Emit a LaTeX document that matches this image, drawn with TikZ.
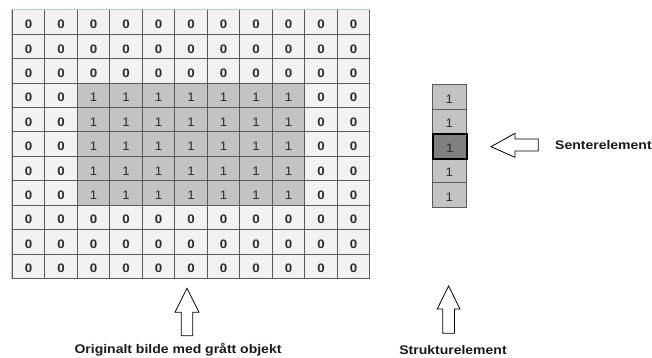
\documentclass[tikz,border=0pt]{standalone}
\usepackage{fontspec}
\setmainfont{Liberation Sans}
\newfontfamily\cellfont[FakeStretch=1.08]{Liberation Sans}
\newfontfamily\labelfont[FakeStretch=1.12]{Liberation Sans}
\definecolor{gridline}{HTML}{5A5A5A}
\definecolor{edgeblue}{HTML}{B8CCE4}
\definecolor{plaincell}{HTML}{F2F2F2}
\definecolor{objcell}{HTML}{C3C3C3}
\definecolor{centercell}{HTML}{808080}
\definecolor{digit}{HTML}{2A2A2A}
\begin{document}
\begin{tikzpicture}[x=1pt,y=-1pt,
  cellbox/.style={draw=gridline, line width=1pt, inner sep=0pt,
    minimum width=32.5pt, minimum height=24.4pt, anchor=north west,
    text height=13pt, text depth=0pt, font=\cellfont\fontsize{12.3}{13}\selectfont, text=digit},
  zerocell/.style={cellbox, fill=plaincell, font=\cellfont\bfseries\fontsize{12.3}{13}\selectfont},
  onecell/.style={cellbox, fill=objcell},
  sebox/.style={cellbox, fill=objcell, minimum width=33.5pt, minimum height=24.6pt, text height=12.6pt},
  caption/.style={font=\labelfont\bfseries\fontsize{12.5}{14}\selectfont, text=black!90, inner sep=0pt, anchor=base},
  blockarrow/.style={draw=black, line width=0.8pt, fill=white, line join=miter}
]
\useasboundingbox (0,0) rectangle (652,358);

% image grid: 11 x 11 cells, object of ones in rows 3-7, columns 2-8
\foreach \r in {0,...,10}{
  \foreach \c in {0,...,10}{
    \pgfmathsetmacro{\isobj}{(\r>=3)&&(\r<=7)&&(\c>=2)&&(\c<=8) ? 1 : 0}
    \ifdim\isobj pt>0.5pt
      \node[onecell] (c-\r-\c) at ({11.7+32.5*\c},{9.5+24.4*\r}) {1};
    \else
      \node[zerocell] (c-\r-\c) at ({11.7+32.5*\c},{9.5+24.4*\r}) {0};
    \fi
  }
}
% light header edges along top and left
\draw[edgeblue, line width=1.2pt] (c-0-0.south west) -- (c-0-0.north west) -- (c-0-10.north east);
\draw[edgeblue, line width=1.2pt] (c-10-0.south west) -- (c-0-0.north west);

% structuring element, five cells with the centre marked
\foreach \k in {0,...,4}{
  \node[sebox] (s-\k) at (432,{84+24.6*\k}) {1};
}
\node[sebox, fill=centercell, draw=black, line width=2pt] (s-2b) at (432,{84+24.6*2}) {1};

% block arrows
\draw[blockarrow] (491,146.7) -- (515,133.3) -- (515,139) -- (538.3,139)
  -- (538.3,151) -- (515,151) -- (515,157.3) -- cycle;
\draw[blockarrow] (187,288.3) -- (199,312.3) -- (192.8,312.3) -- (192.8,335.7)
  -- (181.2,335.7) -- (181.2,312.3) -- (175,312.3) -- cycle;
\draw[blockarrow] (448.6,286) -- (460,309) -- (454.5,309) -- (454.5,333.3)
  -- (442.7,333.3) -- (442.7,309) -- (437.2,309) -- cycle;

% captions
\node[caption] (lab-img) at (178,353.5) {Originalt bilde med grått objekt};
\node[caption] (lab-se) at (453,354) {Strukturelement};
\node[caption, anchor=base west] (lab-ctr) at (555,149.3) {Senterelement};
\end{tikzpicture}
\end{document}
